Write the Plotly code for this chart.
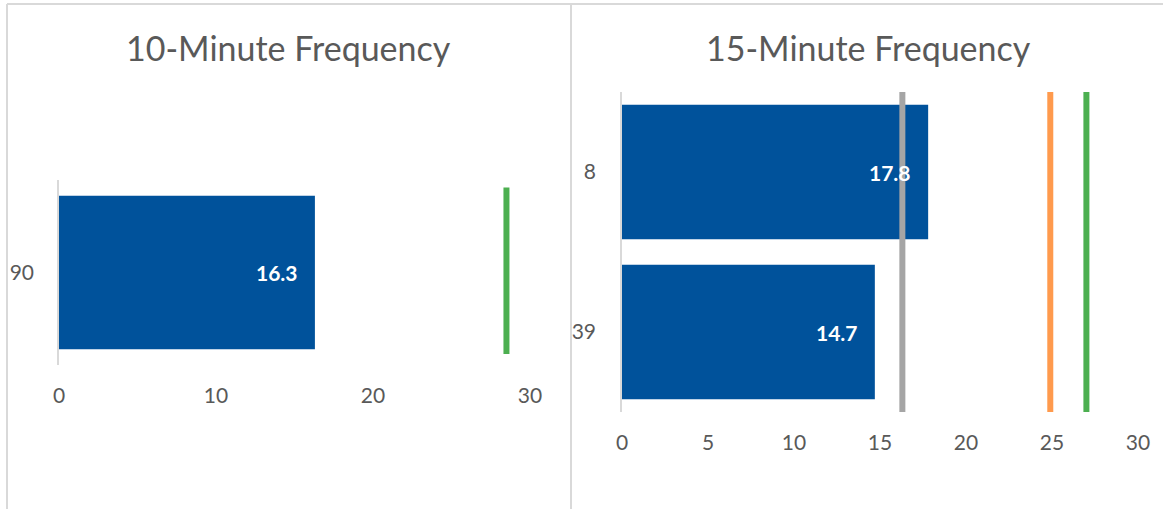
import plotly.graph_objects as go

# 10-minute frequency panel
left_categories = ["90"]
left_values = [16.3]
left_targets = {"green": 28.5}

# 15-minute frequency panel (top bar first)
right_categories = ["8", "39"]
right_values = [17.8, 14.7]
right_targets = {"gray": 16.3, "orange": 24.9, "green": 27.0}

x_ticks_left = [0, 10, 20, 30]
x_ticks_right = [0, 5, 10, 15, 20, 25, 30]

BAR = "#00529B"
LINE_COLORS = {"gray": "#A5A5A5", "orange": "#FF9A4D", "green": "#4CAF50"}
TEXT = "#595959"
RULE = "#D9D9D9"
FONT = "Lato, 'Open Sans', sans-serif"

W, H = 1163, 509

fig = go.Figure()

# Bars: numeric y positions, topmost category gets the largest value
left_y = list(range(len(left_categories)))[::-1]
right_y = list(range(len(right_categories)))[::-1]

fig.add_trace(go.Bar(x=left_values, y=left_y, orientation="h", width=0.83,
                     marker=dict(color=BAR, line=dict(width=0)),
                     xaxis="x", yaxis="y", showlegend=False, hoverinfo="x"))
fig.add_trace(go.Bar(x=right_values, y=right_y, orientation="h", width=0.84,
                     marker=dict(color=BAR, line=dict(width=0)),
                     xaxis="x2", yaxis="y2", showlegend=False, hoverinfo="x"))

# Value labels inside the bar ends
for v, y in zip(left_values, left_y):
    fig.add_annotation(x=v, y=y, xref="x", yref="y", text=f"<b>{v:.1f}</b>",
                       showarrow=False, xanchor="right", yanchor="middle", xshift=-15,
                       font=dict(family=FONT, size=21, color="white"))
for v, y in zip(right_values, right_y):
    fig.add_annotation(x=v, y=y, xref="x2", yref="y2", text=f"<b>{v:.1f}</b>",
                       showarrow=False, xanchor="right", yanchor="middle", xshift=-15,
                       font=dict(family=FONT, size=21, color="white"))

# Reference lines
for name, v in left_targets.items():
    fig.add_trace(go.Scatter(x=[v, v], y=[-0.44, 0.46], mode="lines",
                             line=dict(color=LINE_COLORS[name], width=6),
                             xaxis="x", yaxis="y", showlegend=False, hoverinfo="x"))
for name, v in right_targets.items():
    fig.add_trace(go.Scatter(x=[v, v], y=[-0.5, 1.5], mode="lines",
                             line=dict(color=LINE_COLORS[name], width=6),
                             xaxis="x2", yaxis="y2", showlegend=False, hoverinfo="x"))

tickfont = dict(family=FONT, size=21, color=TEXT)
common = dict(showgrid=False, zeroline=False, automargin=False, tickfont=tickfont)

fig.update_layout(
    width=W, height=H,
    margin=dict(l=0, r=0, t=0, b=0, autoexpand=False),
    paper_bgcolor="white", plot_bgcolor="white",
    font=dict(family=FONT, color=TEXT),
    xaxis=dict(domain=[59 / W, 530 / W], range=[0, 30], tickvals=x_ticks_left,
               showline=False, ticklabelstandoff=16, anchor="y", **common),
    yaxis=dict(domain=[(H - 365) / H, (H - 180) / H], range=[-0.5, 0.5],
               tickvals=left_y, ticktext=left_categories,
               showline=True, linecolor=RULE, linewidth=1.5,
               ticklabelstandoff=19, anchor="x", **common),
    xaxis2=dict(domain=[622 / W, 1138 / W], range=[0, 30], tickvals=x_ticks_right,
                showline=False, ticklabelstandoff=16, anchor="y2", **common),
    yaxis2=dict(domain=[(H - 412) / H, (H - 92) / H], range=[-0.5, 1.5],
                tickvals=right_y, ticktext=right_categories,
                showline=True, linecolor=RULE, linewidth=1.5,
                ticklabelstandoff=20, anchor="x2", **common),
    shapes=[
        dict(type="line", xref="paper", yref="paper", x0=7 / W, x1=1,
             y0=1 - 4 / H, y1=1 - 4 / H, line=dict(color=RULE, width=2)),
        dict(type="line", xref="paper", yref="paper", x0=7 / W, x1=7 / W,
             y0=0, y1=1 - 4 / H, line=dict(color=RULE, width=2)),
        dict(type="line", xref="paper", yref="paper", x0=571 / W, x1=571 / W,
             y0=0, y1=1 - 4 / H, line=dict(color=RULE, width=2)),
    ],
)

# Panel titles
fig.add_annotation(x=288 / W, y=1 - 48 / H, xref="paper", yref="paper",
                   xanchor="center", yanchor="middle",
                   text="10-Minute Frequency", showarrow=False,
                   font=dict(family=FONT, size=34, color=TEXT))
fig.add_annotation(x=868 / W, y=1 - 48 / H, xref="paper", yref="paper",
                   xanchor="center", yanchor="middle",
                   text="15-Minute Frequency", showarrow=False,
                   font=dict(family=FONT, size=34, color=TEXT))

fig.write_html("out.html")
